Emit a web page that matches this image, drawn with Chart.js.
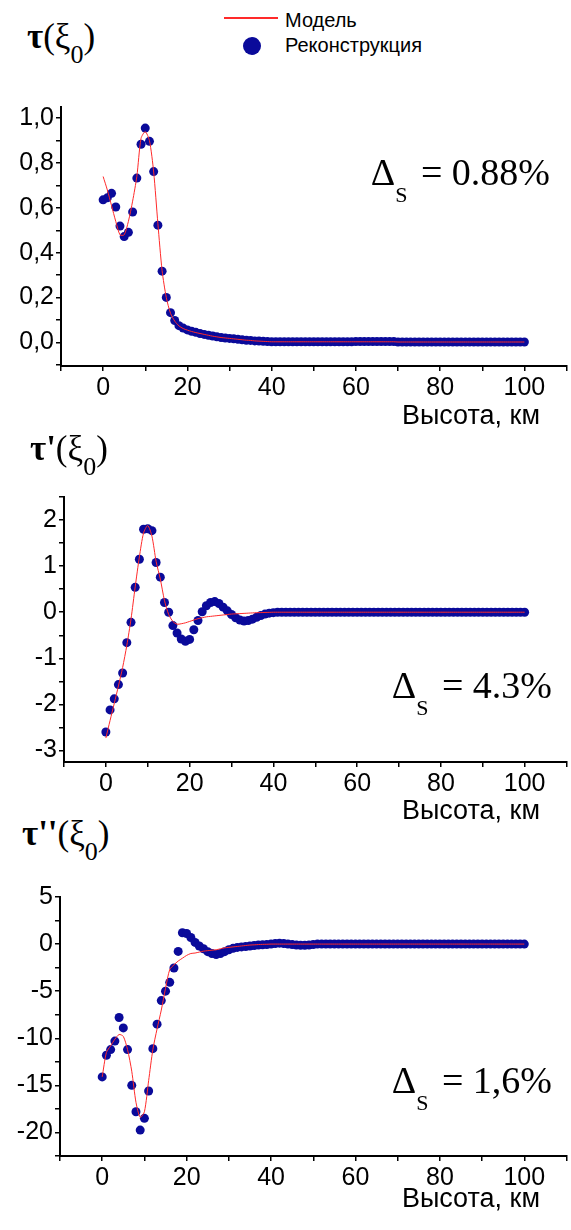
<!DOCTYPE html>
<html lang="ru">
<head>
<meta charset="utf-8">
<script src="https://cdn.jsdelivr.net/npm/chart.js@4.4.1/dist/chart.umd.min.js"></script>
<style>
  html, body { margin: 0; padding: 0; background: #fff; }
  body { position: relative; width: 571px; height: 1230px; overflow: hidden; font-family: "Liberation Sans", Arial, sans-serif; }
  canvas { position: absolute; left: 0; }
  .txt { position: absolute; white-space: nowrap; line-height: 1; color: #000; z-index: 2; }
  .titul { font-family: "Liberation Serif", serif; font-size: 35px; }
  .titul b { font-weight: bold; }
  .titul sub { font-size: 26px; vertical-align: baseline; position: relative; top: 15px; }
  .delta { font-family: "Liberation Serif", serif; font-size: 38px; }
  .delta sub { font-size: 22px; vertical-align: baseline; position: relative; top: 17px; margin-right: 4px; }
  .eixo { font-size: 27px; right: 31px; }
  .leg { font-size: 20px; left: 285px; }
</style>
</head>
<body>

<div style="position:absolute; left:224px; top:17px; width:54px; height:1.5px; background:#ff2a2a; z-index:2"></div>
<div class="txt leg" style="top:10px">Модель</div>
<div style="position:absolute; left:243px; top:37px; width:18px; height:18px; border-radius:50%; background:#0a0a9a; z-index:2"></div>
<div class="txt leg" style="top:35px">Реконструкция</div>

<div class="txt titul" style="left:27px; top:19px"><b>τ</b>(ξ<sub>0</sub>)</div>
<div class="txt delta" style="right:21px; top:153px">Δ<sub>S</sub> = 0.88%</div>
<div class="txt eixo" style="top:402px">Высота, км</div>
<canvas id="grafTau" width="571" height="320" style="top:90px"></canvas>

<div class="txt titul" style="left:30px; top:431px"><b>τ'</b>(ξ<sub>0</sub>)</div>
<div class="txt delta" style="right:19px; top:666px">Δ<sub>S</sub> = 4.3%</div>
<div class="txt eixo" style="top:797px">Высота, км</div>
<canvas id="grafTau1" width="571" height="320" style="top:480px"></canvas>

<div class="txt titul" style="left:22px; top:816px"><b>τ''</b>(ξ<sub>0</sub>)</div>
<div class="txt delta" style="right:19px; top:1061px">Δ<sub>S</sub> = 1,6%</div>
<div class="txt eixo" style="top:1185px">Высота, км</div>
<canvas id="grafTau2" width="571" height="310" style="top:880px"></canvas>

<script>
// высота, км
const heights = [
  0, 1, 2, 3, 4, 5, 6, 7, 8, 9,
  10, 11, 12, 13, 14, 15, 16, 17, 18, 19,
  20, 21, 22, 23, 24, 25, 26, 27, 28, 29,
  30, 31, 32, 33, 34, 35, 36, 37, 38, 39,
  40, 41, 42, 43, 44, 45, 46, 47, 48, 49,
  50, 51, 52, 53, 54, 55, 56, 57, 58, 59,
  60, 61, 62, 63, 64, 65, 66, 67, 68, 69,
  70, 71, 72, 73, 74, 75, 76, 77, 78, 79,
  80, 81, 82, 83, 84, 85, 86, 87, 88, 89,
  90, 91, 92, 93, 94, 95, 96, 97, 98, 99,
  100
];

// τ(ξ0)
const tauRecon = [
  0.636, 0.645, 0.665, 0.604, 0.519, 0.472, 0.491, 0.582, 0.733, 0.884,
  0.956, 0.897, 0.762, 0.523, 0.318, 0.201, 0.133, 0.098, 0.075, 0.064,
  0.056, 0.050, 0.045, 0.040, 0.036, 0.032, 0.029, 0.025, 0.022, 0.020,
  0.018, 0.016, 0.014, 0.012, 0.010, 0.009, 0.007, 0.006, 0.005, 0.004,
  0.003, 0.003, 0.003, 0.003, 0.003, 0.003, 0.003, 0.003, 0.003, 0.003,
  0.003, 0.003, 0.003, 0.003, 0.003, 0.003, 0.003, 0.003, 0.003, 0.003,
  0.004, 0.004, 0.004, 0.004, 0.004, 0.004, 0.004, 0.004, 0.004, 0.004,
  0.002, 0.002, 0.002, 0.002, 0.002, 0.002, 0.002, 0.002, 0.002, 0.002,
  0.002, 0.002, 0.002, 0.002, 0.002, 0.002, 0.002, 0.002, 0.002, 0.002,
  0.002, 0.002, 0.002, 0.002, 0.002, 0.002, 0.002, 0.002, 0.002, 0.002,
  0.002
];
const tauModel = [
  0.74, 0.68, 0.61, 0.54, 0.48, 0.48, 0.54, 0.63, 0.74, 0.91,
  0.94, 0.90, 0.76, 0.53, 0.32, 0.20, 0.13, 0.095, 0.074, 0.062,
  0.055, 0.049, 0.044, 0.040, 0.036, 0.032, 0.028, 0.025, 0.022, 0.020,
  0.018, 0.016, 0.014, 0.012, 0.010, 0.009, 0.007, 0.006, 0.005, 0.004,
  0.003, 0.003, 0.003, 0.003, 0.003, 0.003, 0.003, 0.003, 0.003, 0.003,
  0.003, 0.003, 0.003, 0.003, 0.003, 0.003, 0.003, 0.003, 0.003, 0.003,
  0.003, 0.003, 0.003, 0.003, 0.003, 0.003, 0.003, 0.003, 0.003, 0.003,
  0.002, 0.002, 0.002, 0.002, 0.002, 0.002, 0.002, 0.002, 0.002, 0.002,
  0.002, 0.002, 0.002, 0.002, 0.002, 0.002, 0.002, 0.002, 0.002, 0.002,
  0.002, 0.002, 0.002, 0.002, 0.002, 0.002, 0.002, 0.002, 0.002, 0.002,
  0.002
];

// τ'(ξ0)
const tau1Recon = [
  -2.60, -2.12, -1.88, -1.57, -1.32, -0.66, -0.22, 0.54, 1.15, 1.80,
  1.81, 1.77, 1.08, 0.76, 0.21, 0.00, -0.29, -0.45, -0.58, -0.63,
  -0.59, -0.38, -0.18, 0.01, 0.14, 0.21, 0.23, 0.19, 0.11, 0.03,
  -0.05, -0.12, -0.17, -0.19, -0.18, -0.15, -0.11, -0.07, -0.04, -0.02,
  -0.01, 0, 0, 0, 0, 0, 0, 0, 0, 0,
  0, 0, 0, 0, 0, 0, 0, 0, 0, 0,
  0, 0, 0, 0, 0, 0, 0, 0, 0, 0,
  0, 0, 0, 0, 0, 0, 0, 0, 0, 0,
  0, 0, 0, 0, 0, 0, 0, 0, 0, 0,
  0, 0, 0, 0, 0, 0, 0, 0, 0, 0,
  0
];
const tau1Model = [
  -2.73, -2.35, -1.98, -1.60, -1.20, -0.72, -0.15, 0.55, 1.20, 1.72,
  1.88, 1.65, 1.10, 0.72, 0.25, -0.05, -0.20, -0.26, -0.25, -0.23,
  -0.20, -0.17, -0.14, -0.12, -0.10, -0.09, -0.08, -0.07, -0.06, -0.05,
  -0.04, -0.035, -0.03, -0.025, -0.02, -0.015, -0.01, -0.008, -0.005, -0.003,
  0, 0, 0, 0, 0, 0, 0, 0, 0, 0,
  0, 0, 0, 0, 0, 0, 0, 0, 0, 0,
  0, 0, 0, 0, 0, 0, 0, 0, 0, 0,
  0, 0, 0, 0, 0, 0, 0, 0, 0, 0,
  0, 0, 0, 0, 0, 0, 0, 0, 0, 0,
  0, 0, 0, 0, 0, 0, 0, 0, 0, 0,
  0
];

// τ''(ξ0)
const tau2Recon = [
  -14.1, -11.8, -11.2, -10.3, -7.8, -8.9, -11.2, -15.0, -17.8, -19.75,
  -18.5, -15.6, -11.1, -8.5, -6.0, -5.0, -4.06, -2.54, -0.78, 1.2,
  1.13, 0.7, 0.18, -0.2, -0.5, -0.8, -1.0, -1.1, -1.0, -0.8,
  -0.6, -0.45, -0.35, -0.3, -0.25, -0.2, -0.15, -0.1, -0.08, -0.05,
  0, 0.05, 0.1, 0.05, 0, -0.05, -0.1, -0.12, -0.12, -0.1,
  -0.05, 0, 0, 0, 0, 0, 0, 0, 0, 0,
  0, 0, 0, 0, 0, 0, 0, 0, 0, 0,
  0, 0, 0, 0, 0, 0, 0, 0, 0, 0,
  0, 0, 0, 0, 0, 0, 0, 0, 0, 0,
  0, 0, 0, 0, 0, 0, 0, 0, 0, 0,
  0
];
const tau2Model = [
  -14.1, -11.5, -10.8, -10.1, -9.6, -9.8, -11.2, -13.5, -16.8, -18.4,
  -17.8, -14.5, -11.2, -9.0, -7.0, -4.7, -2.7, -2.2, -1.8, -1.5,
  -1.2, -1.0, -0.95, -0.85, -0.75, -0.7, -0.65, -0.6, -0.5, -0.4,
  -0.35, -0.3, -0.25, -0.2, -0.15, -0.1, -0.08, -0.05, -0.03, -0.02,
  0, 0, 0, 0, 0, 0, 0, 0, 0, 0,
  0, 0, 0, 0, 0, 0, 0, 0, 0, 0,
  0, 0, 0, 0, 0, 0, 0, 0, 0, 0,
  0, 0, 0, 0, 0, 0, 0, 0, 0, 0,
  0, 0, 0, 0, 0, 0, 0, 0, 0, 0,
  0, 0, 0, 0, 0, 0, 0, 0, 0, 0,
  0
];

// деления осей: все засечки и подписанные
const xTicks = [-10, 0, 10, 20, 30, 40, 50, 60, 70, 80, 90, 100, 110];
const xLabels = [0, 20, 40, 60, 80, 100];
const tauTicks = [-0.1, 0, 0.1, 0.2, 0.3, 0.4, 0.5, 0.6, 0.7, 0.8, 0.9, 1.0];
const tauLabels = [0, 0.2, 0.4, 0.6, 0.8, 1.0];
const tau1Ticks = [-3, -2.5, -2, -1.5, -1, -0.5, 0, 0.5, 1, 1.5, 2, 2.5];
const tau1Labels = [-3, -2, -1, 0, 1, 2];
const tau2Ticks = [-22.5, -20, -17.5, -15, -12.5, -10, -7.5, -5, -2.5, 0, 2.5, 5];
const tau2Labels = [-20, -15, -10, -5, 0, 5];

const red = '#ff2a2a';
const navy = '#0a0a9a';
const tickFont = { family: 'Liberation Sans', size: 25 };

function pairs(values) {
  return heights.map((h, i) => ({ x: h, y: values[i] }));
}

function has(list, v) {
  return list.some(t => Math.abs(t - v) < 1e-9);
}

function axisStyle() {
  return {
    grid: { drawOnChartArea: false, drawTicks: true, tickLength: 5, color: '#000', lineWidth: 1.5 },
    border: { display: true, color: '#000', width: 2 }
  };
}

function makeChart(id, recon, model, o) {
  return new Chart(document.getElementById(id), {
    type: 'scatter',
    data: {
      datasets: [{
        label: 'Модель',
        data: pairs(model),
        showLine: true,
        borderColor: red,
        borderWidth: 1,
        pointRadius: 0,
        tension: 0.25
      }, {
        label: 'Реконструкция',
        data: pairs(recon),
        backgroundColor: navy,
        borderColor: navy,
        borderWidth: 0,
        pointRadius: 4.5,
        pointHoverRadius: 4.5
      }]
    },
    options: {
      responsive: false,
      animation: false,
      devicePixelRatio: 1,
      events: [],
      layout: { padding: { top: o.top, right: 0, bottom: 0, left: 0 } },
      plugins: { legend: { display: false }, tooltip: { enabled: false } },
      scales: {
        x: {
          type: 'linear',
          min: -10,
          max: 110,
          ...axisStyle(),
          afterBuildTicks: s => { s.ticks = xTicks.map(v => ({ value: v })); },
          afterFit: s => { s.height = o.xHeight; },
          ticks: {
            autoSkip: false, maxRotation: 0, padding: 2, color: '#000', font: tickFont,
            callback: v => has(xLabels, v) ? String(v) : ''
          }
        },
        y: {
          min: o.min,
          max: o.max,
          ...axisStyle(),
          afterBuildTicks: s => { s.ticks = o.ticks.map(v => ({ value: v })); },
          afterFit: s => { s.width = o.yWidth; },
          ticks: {
            autoSkip: false, padding: 2, color: '#000', font: tickFont,
            callback: v => has(o.labels, v) ? o.fmt(v) : ''
          }
        }
      }
    }
  });
}

makeChart('grafTau', tauRecon, tauModel, {
  top: 14, xHeight: 44, yWidth: 61, min: -0.105, max: 1.05,
  ticks: tauTicks, labels: tauLabels,
  fmt: v => v.toFixed(1).replace('.', ',')
});

makeChart('grafTau1', tau1Recon, tau1Model, {
  top: 15, xHeight: 38, yWidth: 64, min: -3.25, max: 2.5,
  ticks: tau1Ticks, labels: tau1Labels,
  fmt: v => String(v)
});

makeChart('grafTau2', tau2Recon, tau2Model, {
  top: 16, xHeight: 34, yWidth: 60, min: -22.5, max: 5,
  ticks: tau2Ticks, labels: tau2Labels,
  fmt: v => String(v)
});
</script>
</body>
</html>
